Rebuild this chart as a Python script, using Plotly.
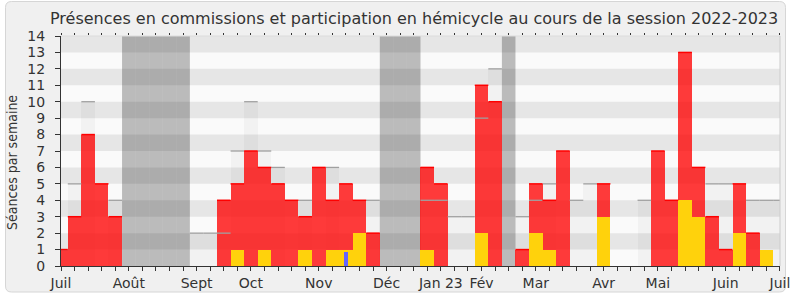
import plotly.graph_objects as go

# ---------------- data (one entry per week, week 0 = first week of July 2022) ----------------
weeks = list(range(54))
presences = [1, 3, 8, 5, 3, 0, 0, 0, 0, 0,
             0, 0, 4, 5, 7, 6, 5, 4, 3, 6,
             4, 5, 4, 2, 0, 0, 0, 6, 5, 0,
             0, 11, 10, 0, 1, 5, 4, 7, 0, 0,
             5, 0, 0, 0, 7, 4, 13, 6, 3, 1,
             5, 2, 0, 0]
hemicycle = [0, 0, 0, 0, 0, 0, 0, 0, 0, 0,
             0, 0, 0, 1, 0, 1, 0, 0, 1, 0,
             1, 1, 2, 0, 0, 0, 0, 1, 0, 0,
             0, 2, 0, 0, 0, 2, 1, 0, 0, 0,
             3, 0, 0, 0, 0, 0, 4, 3, 0, 0,
             2, 0, 1, 0]
mediane = [1, 5, 10, 0, 4, 0, 0, 0, 0, 0,
           2, 2, 2, 7, 10, 7, 6, 0, 4, 0,
           6, 0, 0, 4, 0, 0, 0, 4, 4, 3,
           3, 9, 12, 0, 3, 4, 5, 0, 4, 5,
           0, 0, 0, 4, 0, 0, 0, 0, 5, 5,
           0, 4, 4, 4]
questions_week = [21]
questions_val = [0.87]
vacances = [5, 6, 7, 8, 9, 24, 25, 26, 33]
month_weeks = [0, 5, 10, 14, 19, 24, 28, 31, 35, 40, 44, 49, 53]
month_labels = ["Juil", "Août", "Sept", "Oct", "Nov", "Déc", "Jan 23", "Fév",
                "Mar", "Avr", "Mai", "Juin", "Juil"]
y_max = 14

title = "Présences en commissions et participation en hémicycle au cours de la session 2022-2023"
y_title = "Séances par semaine"

FONT = "DejaVu Sans, sans-serif"
FONT_C = "DejaVu Sans Condensed, DejaVu Sans, sans-serif"
TXT = "#333333"

# plot-area geometry in pixels (for paper-coordinate conversions of decorations)
W, H = 790, 300
L, R, T, B = 61, 10, 36, 34
pw, ph = W - L - R, H - T - B


def px_x(px):
    return (px - L) / pw


def px_y(py):
    return (H - B - py) / ph


def top_segments(vals):
    xs, ys = [], []
    for w, v in zip(weeks, vals):
        if v > 0:
            xs += [w - 0.5, w + 0.5, None]
            ys += [v, v, None]
    return xs, ys


fig = go.Figure()

# median columns (light overlay) and their top lines
fig.add_trace(go.Bar(x=weeks, y=mediane, width=1, marker=dict(color="rgba(0,0,0,0.03)", line=dict(width=0)),
                     hoverinfo="skip", showlegend=False))
mx, my = top_segments(mediane)
fig.add_trace(go.Scatter(x=mx, y=my, mode="lines", line=dict(color="#a0a0a0", width=1.3),
                         hoverinfo="skip", showlegend=False))

# presence bars (red, semi transparent) with bright top line
fig.add_trace(go.Bar(x=weeks, y=presences, width=1, marker=dict(color="rgba(255,0,0,0.77)", line=dict(width=0)),
                     name="Présences en commission", showlegend=False))
rx, ry = top_segments(presences)
fig.add_trace(go.Scatter(x=rx, y=ry, mode="lines", line=dict(color="rgb(255,0,0)", width=1.5),
                         hoverinfo="skip", showlegend=False))

# hemicycle bars (yellow)
fig.add_trace(go.Bar(x=weeks, y=hemicycle, width=1, marker=dict(color="rgb(255,210,12)", line=dict(width=0)),
                     name="Participation en hémicycle", showlegend=False))

# questions (thin blue)
fig.add_trace(go.Bar(x=questions_week, y=questions_val, width=0.27,
                     marker=dict(color="rgb(100,100,255)", line=dict(width=0)),
                     name="Questions orales", showlegend=False))

# dummy trace for the top tick axis
fig.add_trace(go.Scatter(x=[None], y=[None], xaxis="x2", showlegend=False, hoverinfo="skip"))

shapes = []
# outer rounded panel
x0, x1 = px_x(5.5), px_x(785.5)
y0, y1 = px_y(292), px_y(1.5)
rx_, ry_ = 6 / pw, 6 / ph
path = (f"M {x0+rx_},{y1} L {x1-rx_},{y1} Q {x1},{y1} {x1},{y1-ry_} "
        f"L {x1},{y0+ry_} Q {x1},{y0} {x1-rx_},{y0} L {x0+rx_},{y0} "
        f"Q {x0},{y0} {x0},{y0+ry_} L {x0},{y1-ry_} Q {x0},{y1} {x0+rx_},{y1} Z")
shapes.append(dict(type="path", path=path, xref="paper", yref="paper", layer="below",
                   fillcolor="#f0f0f0", line=dict(color="#d6d6d6", width=1)))
# plot area background
shapes.append(dict(type="rect", xref="paper", yref="paper", x0=0, x1=1, y0=0, y1=1, layer="below",
                   fillcolor="#fafafa", line=dict(width=0)))
# alternating stripes
for k in range(y_max):
    if k % 2 == 1:
        shapes.append(dict(type="rect", xref="paper", yref="y", x0=0, x1=1, y0=k, y1=k + 1,
                           layer="below", fillcolor="#e6e6e6", line=dict(width=0)))
# holidays
for w in vacances:
    shapes.append(dict(type="rect", xref="x", yref="paper", x0=w - 0.5, x1=w + 0.5, y0=0, y1=1,
                       layer="below", fillcolor="rgba(0,0,0,0.25)", line=dict(width=0)))
# light top / right border of plot
shapes.append(dict(type="line", xref="paper", yref="paper", x0=0, x1=1, y0=1, y1=1,
                   line=dict(color="#dcdcdc", width=1)))
shapes.append(dict(type="line", xref="paper", yref="paper", x0=1, x1=1, y0=0, y1=1,
                   line=dict(color="#cccccc", width=1)))

ticktext = []
for w in weeks:
    ticktext.append(month_labels[month_weeks.index(w)] if w in month_weeks else "")

fig.update_layout(
    width=W, height=H,
    margin=dict(l=L, r=R, t=T, b=B, autoexpand=False),
    paper_bgcolor="white",
    plot_bgcolor="rgba(0,0,0,0)",
    barmode="overlay",
    bargap=0,
    shapes=shapes,
    font=dict(family=FONT, color=TXT),
    xaxis=dict(range=[0, 53.001], tickmode="array", tickvals=weeks, ticktext=ticktext,
               ticks="outside", ticklen=4, tickcolor=TXT, showline=True, linecolor=TXT, linewidth=1,
               showgrid=False, zeroline=False, tickfont=dict(size=14, color=TXT, family=FONT),
               ticklabeloverflow="allow", automargin=False, fixedrange=True),
    xaxis2=dict(range=[0, 53.001], overlaying="x", side="top", tickmode="array", tickvals=weeks,
                ticks="outside", ticklen=2, tickcolor=TXT, showticklabels=False, showline=False,
                showgrid=False, zeroline=False, automargin=False),
    yaxis=dict(range=[0, y_max], tickmode="array", tickvals=list(range(y_max + 1)),
               ticks="outside", ticklen=5, tickcolor=TXT, showline=True, linecolor=TXT, linewidth=1,
               showgrid=False, zeroline=False, tickfont=dict(size=14, color=TXT, family=FONT),
               ticklabelstandoff=7, automargin=False, fixedrange=True),
    annotations=[
        dict(text=title, xref="paper", yref="paper", x=px_x(414), y=px_y(18), showarrow=False,
             xanchor="center", yanchor="middle", font=dict(size=16, color=TXT, family=FONT)),
        dict(text=y_title, xref="paper", yref="paper", x=px_x(12), y=px_y(162), showarrow=False,
             textangle=-90, xanchor="center", yanchor="middle", font=dict(size=14, color=TXT, family=FONT_C)),
    ],
)

fig.write_html("out.html")
